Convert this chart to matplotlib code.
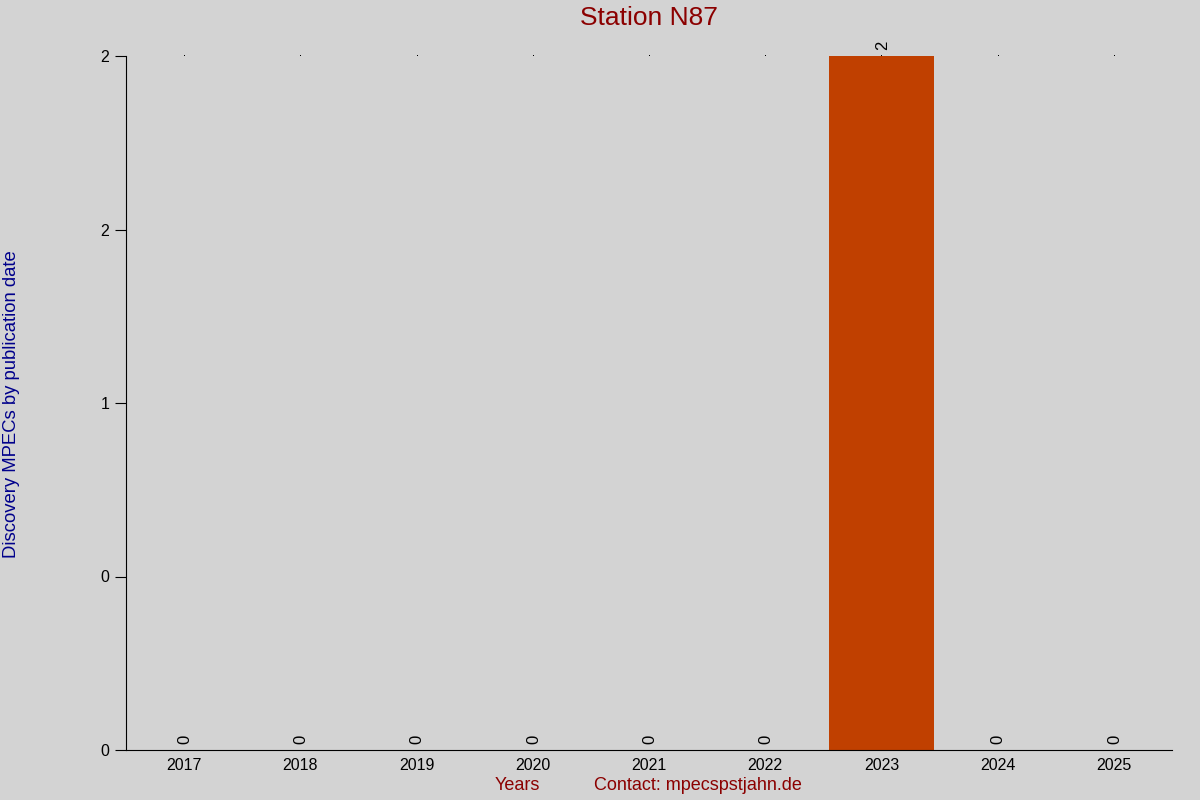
import matplotlib
matplotlib.use("Agg")
import matplotlib.pyplot as plt
from matplotlib.ticker import FormatStrFormatter

years = ["2017", "2018", "2019", "2020", "2021", "2022", "2023", "2024", "2025"]
counts = [0, 0, 0, 0, 0, 0, 2, 0, 0]
yticks = [0, 0.5, 1, 1.5, 2]

plt.rcParams['font.family'] = ['Liberation Sans', 'DejaVu Sans']
bg = '#d3d3d3'
fig = plt.figure(figsize=(12, 8), dpi=100, facecolor=bg)
ax = fig.add_axes([126/1200, 50/800, (1172-126)/1200, (750-56)/800])
ax.set_facecolor(bg)

x = list(range(len(years)))
ax.plot(x, [max(yticks)] * len(x), linestyle='none', marker=',', color='black',
        zorder=1, clip_on=False)
ax.bar(x, counts, width=0.91, color='#c04000', zorder=2)
for xi, v in zip(x, counts):
    ax.annotate(str(v), (xi, v), xytext=(0.5, 4.5), textcoords='offset points',
                rotation=90, ha='center', va='bottom', fontsize=12,
                color='black', zorder=3, annotation_clip=False)

ax.set_xlim(-0.5, len(years) - 0.5)
ax.set_ylim(0, 2)
ax.set_xticks(x)
ax.set_xticklabels(years, fontsize=11.5)
ax.set_yticks(yticks)
ax.yaxis.set_major_formatter(FormatStrFormatter('%.0f'))
ax.tick_params(axis='y', length=8, labelsize=11.5, pad=4)
ax.tick_params(axis='x', length=0, pad=6)
for s in ['top', 'right']:
    ax.spines[s].set_visible(False)

ax.set_title('Station N87', color='#8b0000', fontsize=19, pad=22)
fig.text(12/1200, 1 - 404/800, 'Discovery MPECs by publication date', rotation=90,
         ha='center', va='center', color='#00008b', fontsize=13.3)
fig.text(517/1200, 1 - 786/800, 'Years', ha='center', va='center',
         color='#8b0000', fontsize=13)
fig.text(698/1200, 1 - 786/800, 'Contact: mpecspstjahn.de', ha='center', va='center',
         color='#8b0000', fontsize=13)

fig.savefig('out.png', dpi=100, facecolor=bg)
